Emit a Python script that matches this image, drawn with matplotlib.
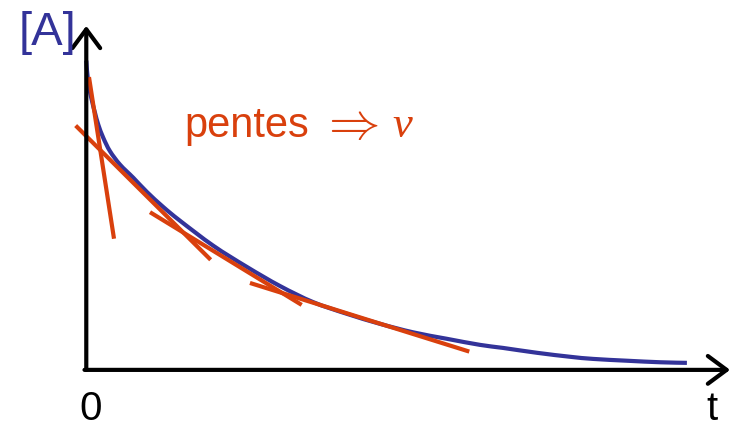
import matplotlib.pyplot as plt
from matplotlib.path import Path
from matplotlib.patches import PathPatch
import numpy as np

# Concentration [A] en fonction du temps (unités arbitraires)
t_vals = [0.0, 0.033, 0.09, 0.145, 0.2, 0.283, 0.395, 0.562, 0.783, 1.007,
          1.283, 1.562, 2.117, 2.673, 3.228, 3.783, 4.340, 4.895, 5.450,
          6.007, 6.562, 6.945, 7.512, 8.062, 8.445, 9.012, 9.562, 10.01]
a_vals = [1.014, 0.941, 0.886, 0.843, 0.804, 0.761, 0.717, 0.673, 0.630, 0.584,
          0.534, 0.489, 0.407, 0.338, 0.275, 0.222, 0.184, 0.151, 0.123,
          0.102, 0.082, 0.072, 0.056, 0.043, 0.036, 0.030, 0.025, 0.023]

# Tangentes : (t debut, [A] debut, t fin, [A] fin)
tangentes_t0 = [0.045, -0.177, 1.062, 2.728]
tangentes_a0 = [0.960, 0.801, 0.517, 0.285]
tangentes_t1 = [0.462, 2.073, 3.590, 6.383]
tangentes_a1 = [0.430, 0.361, 0.213, 0.060]

bleu = '#333399'
rouge = '#D9400D'


def chemin_lisse(x, y):
    # trace passant par les points, avec des segments de Bezier (Catmull-Rom)
    p = np.column_stack([x, y])
    p = np.vstack([p[0], p, p[-1]])
    verts = [p[1]]
    codes = [Path.MOVETO]
    for i in range(1, len(p) - 2):
        c1 = p[i] + (p[i + 1] - p[i - 1]) / 6
        c2 = p[i + 1] - (p[i + 2] - p[i]) / 6
        verts += [c1, c2, p[i + 1]]
        codes += [Path.CURVE4] * 3
    return Path(verts, codes)


fig = plt.figure(figsize=(7.31, 4.27), dpi=100)
ax = fig.add_axes([0, 0, 1, 1])
ax.set_xlim(-1.438, 10.745)
ax.set_ylim(-0.184, 1.216)
ax.axis('off')

# axes avec fleches
fleche = dict(arrowstyle='->,head_length=1.35,head_width=1.0', lw=3,
              color='black', shrinkA=0, shrinkB=0, mutation_scale=10)
ax.annotate('', xy=(0, 1.128), xytext=(0, 0), arrowprops=fleche)
ax.annotate('', xy=(10.73, 0), xytext=(-0.03, 0), arrowprops=fleche)

# courbe
ax.add_patch(PathPatch(chemin_lisse(t_vals, a_vals), fill=False,
                       edgecolor=bleu, lw=3, capstyle='butt'))

# pentes
for x0, y0, x1, y1 in zip(tangentes_t0, tangentes_a0, tangentes_t1, tangentes_a1):
    ax.plot([x0, x1], [y0, y1], color=rouge, lw=3, solid_capstyle='butt')

sans = ['Liberation Sans', 'DejaVu Sans']
ax.text(-1.122, 1.069, '[A]', color=bleu, fontsize=34, family=sans,
        va='baseline', ha='left')
ax.text(1.632, 0.767, 'pentes', color=rouge, fontsize=30, family=sans,
        va='baseline', ha='left')
ax.text(4.37, 0.807, r'$\Rightarrow$', color=rouge, fontsize=37,
        math_fontfamily='cm', va='center', ha='center')
ax.text(5.27, 0.767, 'v', color=rouge, fontsize=32, family='Liberation Serif',
        style='italic', va='baseline', ha='center')
ax.text(0.07, -0.161, '0', color='black', fontsize=29, family=sans,
        va='baseline', ha='center')
ax.text(10.42, -0.161, 't', color='black', fontsize=29, family=sans,
        va='baseline', ha='center')

fig.savefig('out.png', dpi=100)
